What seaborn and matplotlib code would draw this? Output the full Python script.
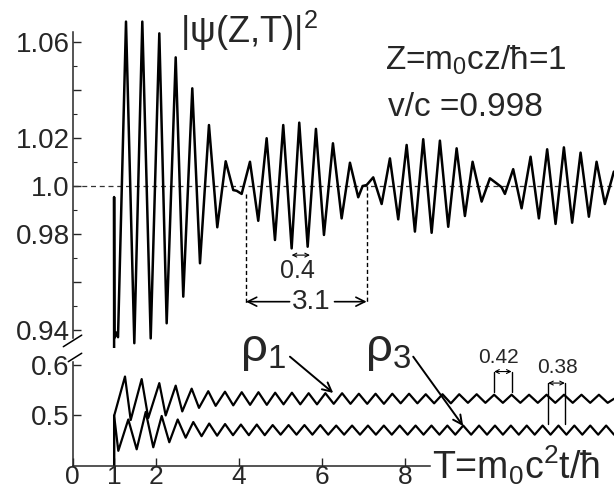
import matplotlib
matplotlib.use('agg')
import matplotlib.pyplot as plt
import seaborn as sns

# |psi|^2, extrema (T, value)
T_psi = [1.0, 1.0, 1.005, 1.046, 1.094, 1.286, 1.486, 1.678, 1.880, 2.087,
         2.264, 2.481, 2.663, 2.880, 3.065, 3.281, 3.481, 3.683, 3.865, 3.947,
         4.067, 4.267, 4.466, 4.668, 4.868, 5.067, 5.269, 5.452, 5.654, 5.853,
         6.046, 6.262, 6.471, 6.671, 6.870, 6.976, 7.072, 7.231, 7.433, 7.632,
         7.832, 8.034, 8.233, 8.433, 8.635, 8.834, 9.034, 9.236, 9.435, 9.620,
         9.837, 10.036, 10.197, 10.317, 10.397, 10.596, 10.798, 11.014, 11.214, 11.413,
         11.615, 11.815, 12.014, 12.216, 12.416, 12.601, 12.800, 13.017]
psi = [0.0, 0.9954, 0.9367, 0.939, 0.937, 1.0685, 0.9345, 1.0685, 0.9365, 1.0636,
       0.9428, 1.0536, 0.9539, 1.0407, 0.9678, 1.0254, 0.9828, 1.0103, 0.9983, 0.9980,
       0.9967, 1.0101, 0.9855, 1.0199, 0.9775, 1.0254, 0.9740, 1.0264, 0.9747, 1.0238,
       0.9796, 1.0178, 0.9865, 1.0097, 0.9953, 1.0, 1.0004, 1.0036, 0.9925, 1.0115,
       0.9861, 1.0171, 0.9810, 1.0195, 0.9805, 1.0189, 0.9830, 1.0157, 0.9875, 1.0101,
       0.9935, 1.0032, 1.0011, 0.9995, 0.9967, 1.0070, 0.9907, 1.0122, 0.9865, 1.0153,
       0.9842, 1.0161, 0.9847, 1.0139, 0.9872, 1.0101, 0.9925, 1.006]

# rho_1
T_r1 = [1.0, 1.0, 1.262, 1.399, 1.663, 1.822, 2.087, 2.240, 2.481, 2.639,
        2.865, 3.041, 3.264, 3.442, 3.666, 3.865, 4.069, 4.270, 4.471, 4.672,
        4.873, 5.074, 5.276, 5.477, 5.678, 5.879, 6.080, 6.281, 6.482, 6.684,
        6.885, 7.086, 7.287, 7.488, 7.689, 7.890, 8.092, 8.293, 8.494, 8.695,
        8.896, 9.097, 9.298, 9.508, 9.718, 9.928, 10.138, 10.348, 10.558, 10.768,
        10.978, 11.188, 11.398, 11.608, 11.818, 12.028, 12.238, 12.448, 12.658, 12.868,
        13.02]
r1 = [0.0, 0.499, 0.577, 0.491, 0.572, 0.495, 0.564, 0.500, 0.559, 0.508,
      0.553, 0.515, 0.548, 0.519, 0.547, 0.520, 0.546, 0.521, 0.546, 0.521,
      0.545, 0.522, 0.545, 0.522, 0.544, 0.522, 0.544, 0.523, 0.544, 0.523,
      0.543, 0.523, 0.543, 0.523, 0.543, 0.524, 0.543, 0.524, 0.542, 0.524,
      0.542, 0.524, 0.542, 0.525, 0.542, 0.525, 0.541, 0.525, 0.541, 0.525,
      0.541, 0.525, 0.541, 0.525, 0.541, 0.525, 0.541, 0.525, 0.541, 0.525,
      0.533]

# rho_3
T_r3 = [1.0, 1.0, 1.101, 1.341, 1.543, 1.760, 1.942, 2.144, 2.327, 2.529,
        2.721, 2.904, 3.103, 3.286, 3.477, 3.668, 3.859, 4.049, 4.240, 4.431,
        4.622, 4.813, 5.004, 5.195, 5.386, 5.577, 5.768, 5.958, 6.149, 6.340,
        6.531, 6.722, 6.913, 7.104, 7.295, 7.486, 7.677, 7.867, 8.058, 8.249,
        8.440, 8.631, 8.822, 9.013, 9.204, 9.394, 9.585, 9.776, 9.967, 10.158,
        10.349, 10.540, 10.731, 10.922, 11.113, 11.303, 11.494, 11.685, 11.876, 12.067,
        12.258, 12.449, 12.640, 12.831, 13.02]
r3 = [0.0, 0.500, 0.430, 0.492, 0.433, 0.507, 0.437, 0.499, 0.447, 0.492,
      0.456, 0.487, 0.459, 0.484, 0.460, 0.483, 0.461, 0.482, 0.461, 0.482,
      0.461, 0.481, 0.462, 0.481, 0.462, 0.481, 0.462, 0.481, 0.462, 0.480,
      0.462, 0.480, 0.462, 0.480, 0.462, 0.480, 0.462, 0.480, 0.462, 0.480,
      0.462, 0.480, 0.462, 0.480, 0.462, 0.480, 0.462, 0.480, 0.462, 0.480,
      0.462, 0.480, 0.462, 0.480, 0.462, 0.480, 0.462, 0.480, 0.462, 0.480,
      0.462, 0.480, 0.462, 0.480, 0.462]

top_ticks = [0.94, 0.96, 0.98, 1.0, 1.02, 1.04, 1.06]
top_labels = ['0.94', '', '0.98', '1.0', '1.02', '', '1.06']
bot_ticks = [0.5, 0.6]
bot_labels = ['0.5', '0.6']
x_ticks = [0, 1, 2, 4, 6, 8]
x_labels = ['0', '1', '2', '4', '6', '8']

sns.set_style('ticks')
plt.rcParams['font.family'] = ['Liberation Sans', 'DejaVu Sans']
plt.rcParams['mathtext.fontset'] = 'custom'
plt.rcParams['mathtext.rm'] = 'Liberation Sans'
plt.rcParams['mathtext.it'] = 'Liberation Sans:italic'

fig = plt.figure(figsize=(6.14, 4.9), dpi=100)
ax_top = fig.add_axes([0.1181, 0.2898, 0.8819, 0.7102])
ax_bot = fig.add_axes([0.1181, 0.04898, 0.8819, 0.2265])
for ax in (ax_top, ax_bot):
    ax.set_facecolor('none')
    ax.set_xlim(0, 13.02)
    ax.spines['top'].set_visible(False)
    ax.spines['right'].set_visible(False)
    ax.spines['left'].set_linewidth(1.1)
    ax.spines['bottom'].set_linewidth(1.1)

line_kw = dict(sort=False, estimator=None, color='black', solid_joinstyle='round')

# upper panel
ax_top.axhline(1.0, color='0.2', lw=0.9, ls=(0, (4, 3)), zorder=1)
sns.lineplot(x=T_psi, y=psi, ax=ax_top, lw=1.8, **line_kw)
ax_top.set_ylim(0.9325, 1.0775)
ax_top.spines['bottom'].set_visible(False)
ax_top.spines['left'].set_bounds(0.9365, 1.064)
ax_top.set_yticks(top_ticks)
ax_top.set_yticklabels(top_labels)
ax_top.set_yticks([0.95, 0.97, 0.99, 1.01, 1.03, 1.05], minor=True)
ax_top.tick_params(axis='y', which='major', direction='in', length=6, width=1, labelsize=20, pad=2)
ax_top.tick_params(axis='y', which='minor', direction='in', length=3, width=0.8)
ax_top.tick_params(axis='x', bottom=False, labelbottom=False)

ax_top.text(2.584, 1.0645, '|ψ(Z,T)|$^2$', fontsize=26, ha='left', va='center')
ax_top.text(7.512, 1.0525, 'Z=m$_0$cz/ħ=1', fontsize=24, ha='left', va='center')
ax_top.text(7.584, 1.0329, 'v/c =0.998', fontsize=24, ha='left', va='center')

# period marks in the upper panel
ax_top.plot([4.171, 4.171], [0.9967, 0.951], color='black', lw=1, ls=(0, (3, 2)))
ax_top.plot([7.072, 7.072], [1.0, 0.951], color='black', lw=1, ls=(0, (3, 2)))
ax_top.annotate('', xy=(5.269, 0.9712), xytext=(5.709, 0.9712),
                arrowprops=dict(arrowstyle='<->', lw=0.8, color='black', mutation_scale=7,
                                shrinkA=0, shrinkB=0))
ax_top.text(5.41, 0.9646, '0.4', fontsize=18, ha='center', va='center')
ax_top.text(5.745, 0.9517, '3.1', fontsize=20, ha='center', va='center')
ax_top.annotate('', xy=(4.171, 0.9518), xytext=(5.22, 0.9518),
                arrowprops=dict(arrowstyle='->', lw=1.2, color='black', mutation_scale=16,
                                shrinkA=0, shrinkB=0))
ax_top.annotate('', xy=(7.072, 0.9518), xytext=(6.30, 0.9518),
                arrowprops=dict(arrowstyle='->', lw=1.2, color='black', mutation_scale=16,
                                shrinkA=0, shrinkB=0))

# lower panel
sns.lineplot(x=T_r1, y=r1, ax=ax_bot, lw=1.6, **line_kw)
sns.lineplot(x=T_r3, y=r3, ax=ax_bot, lw=1.6, **line_kw)
ax_bot.set_ylim(0.4, 0.6196)
ax_bot.spines['left'].set_bounds(0.4, 0.6065)
ax_bot.spines['bottom'].set_bounds(0, 8.6)
ax_bot.set_yticks(bot_ticks)
ax_bot.set_yticklabels(bot_labels)
ax_bot.set_xticks(x_ticks)
ax_bot.set_xticklabels(x_labels)
ax_bot.tick_params(direction='in', length=6, width=1, labelsize=19)
ax_bot.tick_params(axis='x', pad=-0.5)
ax_bot.tick_params(axis='y', pad=2, labelsize=20)

ax_bot.text(8.642, 0.401, 'T=m$_0$c$^2$t/ħ', fontsize=27, ha='left', va='center')

ax_bot.text(4.58, 0.628, 'ρ$_1$', fontsize=34, ha='center', va='center')
ax_bot.text(7.58, 0.628, 'ρ$_3$', fontsize=34, ha='center', va='center')
ax_bot.annotate('', xy=(6.269, 0.5445), xytext=(5.228, 0.6163), annotation_clip=False,
                arrowprops=dict(arrowstyle='->', lw=1.4, color='black', mutation_scale=16,
                                shrinkA=0, shrinkB=0))
ax_bot.annotate('', xy=(9.394, 0.479), xytext=(8.192, 0.6163), annotation_clip=False,
                arrowprops=dict(arrowstyle='->', lw=1.4, color='black', mutation_scale=16,
                                shrinkA=0, shrinkB=0))

# period marks in the lower panel
for t in (10.139, 10.558):
    ax_bot.plot([t, t], [0.5869, 0.546], color='black', lw=1)
ax_bot.annotate('', xy=(10.139, 0.5869), xytext=(10.558, 0.5869),
                arrowprops=dict(arrowstyle='<->', lw=0.8, color='black', mutation_scale=7,
                                shrinkA=0, shrinkB=0))
ax_bot.text(10.25, 0.6137, '0.42', fontsize=15, ha='center', va='center')
for t in (11.437, 11.839):
    ax_bot.plot([t, t], [0.5641, 0.4824], color='black', lw=1)
ax_bot.annotate('', xy=(11.437, 0.5641), xytext=(11.839, 0.5641),
                arrowprops=dict(arrowstyle='<->', lw=0.8, color='black', mutation_scale=7,
                                shrinkA=0, shrinkB=0))
ax_bot.text(11.65, 0.5951, '0.38', fontsize=15, ha='center', va='center')

# axis break marks
kw = dict(color='black', lw=1.1, clip_on=False)
ax_top.plot([-0.017, 0.017], [0.0037, 0.037], transform=ax_top.transAxes, **kw)
ax_bot.plot([-0.0078, 0.017], [0.94, 1.016], transform=ax_bot.transAxes, **kw)

fig.savefig('out.png', dpi=100)
plt.close(fig)
